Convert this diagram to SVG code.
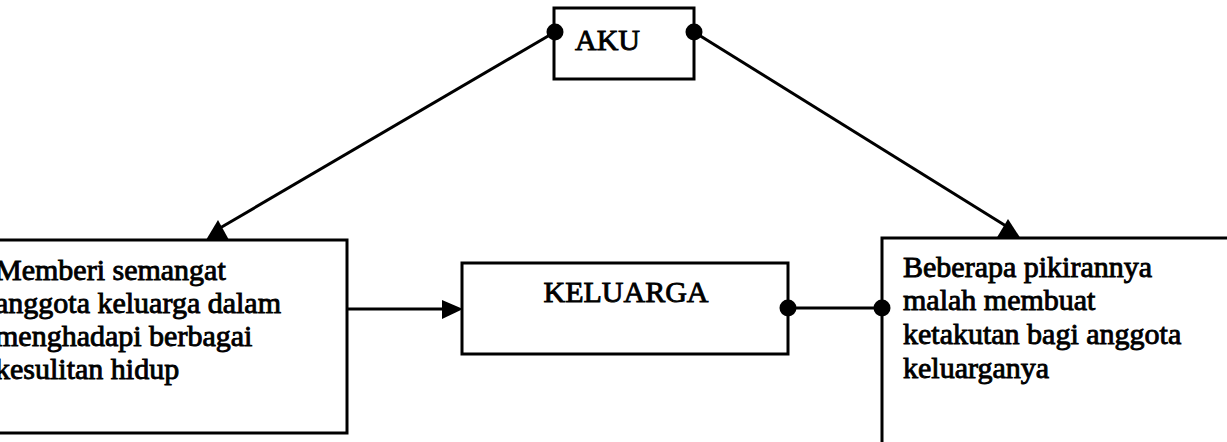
<svg xmlns="http://www.w3.org/2000/svg" width="1227" height="442" viewBox="0 0 1227 442">
  <style>
    .box { fill: #ffffff; stroke: #000000; stroke-width: 3; }
    .line { fill: none; stroke: #000000; stroke-width: 3; }
    .head { fill: #000000; stroke: none; }
    .dot { fill: #000000; }
    .txt { font-family: "Liberation Serif", "Times New Roman", serif; font-size: 30px; fill: #000000; stroke: #000000; stroke-width: 0.9; }
  </style>
  <rect x="0" y="0" width="1227" height="442" fill="#ffffff"/>

  <!-- boxes -->
  <g id="aku">
    <rect class="box" x="554" y="8" width="140" height="71"/>
    <text class="txt" x="575" y="50">AKU</text>
  </g>
  <g id="dukungan">
    <rect class="box" x="-10" y="240" width="357" height="193"/>
    <text class="txt" x="-5" y="280">Memberi semangat</text>
    <text class="txt" x="-5" y="313">anggota keluarga dalam</text>
    <text class="txt" x="-5" y="346">menghadapi berbagai</text>
    <text class="txt" x="-5" y="379">kesulitan hidup</text>
  </g>
  <g id="keluarga">
    <rect class="box" x="462" y="263" width="326" height="91"/>
    <text class="txt" x="626" y="302" text-anchor="middle">KELUARGA</text>
  </g>
  <g id="ketakutan">
    <rect class="box" x="882" y="238" width="360" height="220"/>
    <text class="txt" x="903" y="277">Beberapa pikirannya</text>
    <text class="txt" x="903" y="310">malah membuat</text>
    <text class="txt" x="903" y="344">ketakutan bagi anggota</text>
    <text class="txt" x="903" y="378">keluarganya</text>
  </g>

  <!-- connectors -->
  <g id="connectors">
    <line class="line" x1="555" y1="32" x2="220" y2="228"/>
    <polygon class="head" points="206,240 229,240 218,220"/>
    <line class="line" x1="694" y1="32" x2="1006" y2="226"/>
    <polygon class="head" points="996,239 1021,239 1008,219"/>
    <line class="line" x1="347" y1="309" x2="446" y2="309"/>
    <polygon class="head" points="463,309 442,300 442,319"/>
    <line class="line" x1="788" y1="308" x2="882" y2="308"/>
    <circle class="dot" cx="555" cy="32" r="8.5"/>
    <circle class="dot" cx="694" cy="32" r="8.5"/>
    <circle class="dot" cx="788" cy="308" r="8.5"/>
    <circle class="dot" cx="882" cy="308" r="8.5"/>
  </g>
</svg>
